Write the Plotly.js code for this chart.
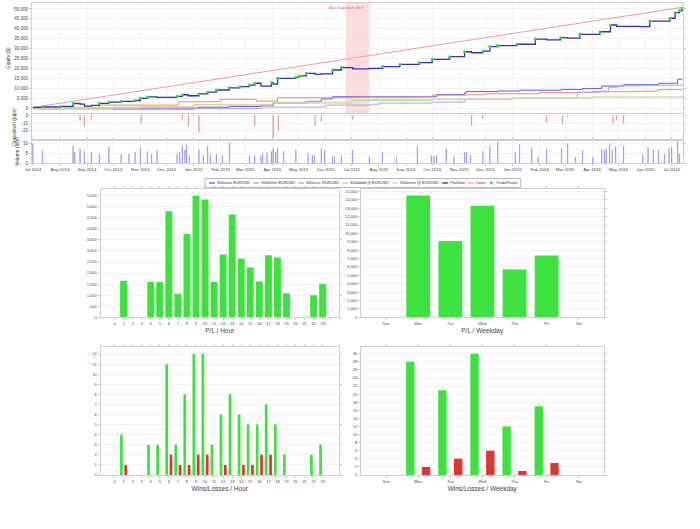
<!DOCTYPE html>
<html><head><meta charset="utf-8">
<script src="https://cdn.plot.ly/plotly-3.0.1.min.js"></script>
<style>html,body{margin:0;padding:0;background:#fff}#chart{width:700px;height:529px}</style>
</head><body><div id="chart"></div>
<script>
// ---------------- DATA ----------------
const portfolioDates = ['2014-07-01','2014-07-12','2014-08-01','2014-08-16','2014-08-24','2014-08-29','2014-09-06','2014-09-15','2014-09-26','2014-10-10','2014-10-26','2014-11-01','2014-11-09','2014-11-20','2014-12-13','2014-12-19','2014-12-26','2015-01-07','2015-01-17','2015-01-27','2015-02-11','2015-02-23','2015-03-06','2015-03-12','2015-03-19','2015-03-31','2015-04-02','2015-04-07','2015-04-28','2015-05-02','2015-05-10','2015-05-20','2015-05-27','2015-06-09','2015-06-19','2015-07-02','2015-07-21','2015-08-05','2015-08-25','2015-09-16','2015-10-01','2015-10-21','2015-11-07','2015-11-15','2015-11-28','2015-12-06','2015-12-15','2016-01-06','2016-01-27','2016-02-09','2016-02-25','2016-03-04','2016-03-18','2016-04-10','2016-04-22','2016-04-29','2016-05-26','2016-06-06','2016-06-29','2016-07-05','2016-07-10','2016-07-13'];
const portfolioValues = [300,600,800,2300,2000,1000,1300,2400,3000,3400,3800,4900,5600,5400,5900,6700,6200,7100,8000,9100,10200,10800,11600,12500,11100,12800,12100,15000,15600,16200,17500,17000,17200,19200,20400,19800,20000,20900,22000,22900,24600,25900,28400,27900,28700,31000,31500,32200,34800,34400,35500,35300,37200,38500,41900,41200,41100,43900,45300,48100,49200,50300];

const trendDates = ['2014-07-01','2016-07-13'];
const trendValues = [300,50800];

const stratNames = ['S00xxxx EURUSD','S00hhhh EURUSD','S00cccc EURUSD','S00dddd (I) EURUSD','S00eeee (I) EURUSD'];
const stratADates = ['2014-07-01','2014-12-19','2015-01-07','2015-02-11','2015-03-19','2015-04-02','2015-05-10','2015-05-27','2015-06-09','2015-09-30','2015-10-06','2015-11-07','2015-11-09','2015-12-15','2016-01-09','2016-02-26','2016-03-21','2016-04-12','2016-05-07','2016-06-16','2016-07-08','2016-07-13'];
const stratAValues = [0,0,400,800,1200,2600,3400,4600,5700,5700,6800,7600,8300,8600,9000,9400,9900,11100,11800,12500,14500,14500];
const stratBDates = ['2014-07-01','2014-09-15','2014-12-15','2015-02-01','2015-03-10','2015-03-14','2015-04-07','2015-07-01','2015-09-20','2015-10-01','2015-11-10','2015-12-01','2016-02-01','2016-04-01','2016-05-15','2016-06-15','2016-07-13'];
const stratBValues = [0,1500,3200,4400,4400,3500,5200,5500,5600,6500,6700,7200,7800,8200,8500,9300,9400];
const stratCDates = ['2014-07-01','2014-10-01','2015-01-01','2015-03-20','2015-06-01','2015-07-25','2015-08-01','2015-10-01','2015-11-07','2016-01-01','2016-03-15','2016-04-10','2016-04-20','2016-05-01','2016-06-01','2016-07-13'];
const stratCValues = [-500,-800,-300,500,1500,1900,2500,3000,4500,5000,8000,8500,10500,11200,11500,12000];
const stratDDates = ['2014-07-01','2014-10-01','2015-01-01','2015-04-01','2015-07-01','2015-10-01','2016-01-01','2016-04-01','2016-07-13'];
const stratDValues = [0,500,1500,2500,3800,4300,5000,5500,6000];
const stratEDates = ['2014-07-01','2014-11-01','2015-01-01','2015-04-01','2015-07-01','2015-10-01','2016-01-01','2016-04-01','2016-07-13'];
const stratEValues = [0,800,1800,3000,4400,4600,5000,5400,5600];

const drawdownDates = ['2014-08-24','2014-08-29','2014-09-06','2014-11-02','2014-12-19','2014-12-26','2015-01-07','2015-03-12','2015-04-02','2015-04-08','2015-05-20','2015-05-27','2015-07-02','2015-11-15','2015-11-28','2016-02-09','2016-02-27','2016-03-04','2016-04-25','2016-04-29','2016-05-07'];
const drawdownValues = [-6,-14,-5,-10,-5,-14,-22,-14,-29,-20,-13,-8,-5,-13,-4,-9,-11,-2,-11,-6,-10];

const volumeDates = ['2014-07-01','2014-07-12','2014-08-16','2014-08-18','2014-08-24','2014-08-29','2014-09-06','2014-09-15','2014-09-26','2014-10-10','2014-10-19','2014-10-26','2014-11-01','2014-11-09','2014-11-14','2014-11-20','2014-12-13','2014-12-16','2014-12-19','2014-12-22','2014-12-24','2014-12-27','2015-01-07','2015-01-12','2015-01-17','2015-01-20','2015-01-27','2015-02-03','2015-02-11','2015-03-06','2015-03-12','2015-03-19','2015-03-21','2015-03-26','2015-03-31','2015-04-02','2015-04-05','2015-04-07','2015-04-14','2015-04-28','2015-05-12','2015-05-17','2015-05-19','2015-05-27','2015-05-31','2015-06-09','2015-06-11','2015-06-19','2015-07-02','2015-07-21','2015-08-05','2015-08-21','2015-09-14','2015-09-30','2015-10-03','2015-10-06','2015-10-17','2015-10-26','2015-11-07','2015-11-09','2015-11-14','2015-11-28','2015-12-06','2015-12-15','2016-01-04','2016-01-09','2016-01-23','2016-01-30','2016-02-09','2016-02-26','2016-03-04','2016-03-13','2016-03-21','2016-04-02','2016-04-12','2016-04-15','2016-04-17','2016-04-21','2016-04-24','2016-04-28','2016-05-07','2016-05-29','2016-06-04','2016-06-10','2016-06-16','2016-06-23','2016-06-28','2016-07-01','2016-07-08','2016-07-10'];
const volumeValues = [10,6.5,9,5.6,7.4,6,5.6,4.4,8.2,4.4,4.7,5.6,7.7,6,4.7,6.5,4.7,5.6,9,6.8,9.5,3.9,7,3.9,8.8,4.2,4.7,3.9,10.5,3.9,3.9,3.5,4.7,5,6,7.4,5.6,7.7,6,6.8,5,3.9,3.9,7.4,6.5,3.3,3.3,3.9,6.5,3.3,5.6,3.3,8.6,3.9,3.3,3.9,7.4,3.3,5.6,5.3,3.9,6,9.1,10.9,5.6,9.6,7.7,3,7.4,7.7,10,3,6.5,3,7,6.5,7.4,10,6.5,8.6,8.8,4.4,8.2,6.8,6.5,4.7,7.4,8.2,11.4,4.7];

const stagnation = ['2015-06-24','2015-07-21'];
const stagnationLabel = 'Max Stagnation: 46 d';

const hours = [0,1,2,3,4,5,6,7,8,9,10,11,12,13,14,15,16,17,18,19,20,21,22,23];
const plHour = [0,1650,0,0,1600,1600,4790,1070,3780,5500,5320,1600,2840,4650,2660,2250,1620,2810,2700,1090,0,0,1000,1510];
const winsHour = [0,4,0,0,3,3,11,3,8,12,12,3,6,8,6,5,5,7,5,2,0,0,2,3];
const lossesHour = [0,1,0,0,0,0,2,1,1,2,2,0,1,0,1,1,2,2,0,0,0,0,0,0];

const weekdays = ['Sun','Mon','Tue','Wed','Thu','Fri','Sat'];
const plWeekday = [0,14530,9100,13300,5700,7380,0];
const winsWeekday = [0,28,21,30,12,17,0];
const lossesWeekday = [0,2,4,6,1,3,0];

// ---------------- STYLE ----------------
const W = 700, H = 529;
const FONT = 'Liberation Sans, Arial, sans-serif';
const px = v => v / W;
const py = v => 1 - v / H;
const stratColors = ['#5a5aee','#f08a7a','#a4a4f2','#a8e4a0','#f2d090'];
const portColor = '#2f2fb8';
const trendColor = '#f29a9a';
const peakColor = '#2fdc2f';
const green = '#3ee23e', red = '#e03434';
const gridC = '#ececec', frameC = '#cfcfcf', tickC = '#444';

// trade peaks = new highs of the portfolio
const peakDates = [], peakValues = [];
let runMax = -Infinity;
portfolioValues.forEach((v, i) => { if (v > runMax) { runMax = v; if (i > 0) { peakDates.push(portfolioDates[i]); peakValues.push(v); } } });

const DAY = 86400000;
const traces = [];
const stratD = [[stratADates,stratAValues],[stratBDates,stratBValues],[stratCDates,stratCValues],[stratDDates,stratDValues],[stratEDates,stratEValues]];
stratD.forEach((s, i) => traces.push({type:'scatter', mode:'lines', x:s[0], y:s[1], name:stratNames[i], line:{color:stratColors[i], width:1, shape:'hv'}, xaxis:'x', yaxis:'y', showlegend:false}));
traces.push({type:'scatter', mode:'lines', x:trendDates, y:trendValues, name:'Lines', line:{color:trendColor, width:1}, xaxis:'x', yaxis:'y', showlegend:false});
traces.push({type:'scatter', mode:'lines', x:portfolioDates, y:portfolioValues, name:'Portfolio', line:{color:portColor, width:1.3, shape:'hv'}, xaxis:'x', yaxis:'y', showlegend:false});
traces.push({type:'scatter', mode:'markers', x:peakDates, y:peakValues, name:'TradePeaks', marker:{color:peakColor, size:3}, xaxis:'x', yaxis:'y', showlegend:false});
traces.push({type:'bar', x:drawdownDates, y:drawdownValues, width:DAY*0.6, marker:{color:'#e88080', line:{color:'#e88080', width:0.4}}, xaxis:'x', yaxis:'y2', showlegend:false});
traces.push({type:'bar', x:volumeDates, y:volumeValues, width:DAY*0.6, marker:{color:'#8686ea', line:{color:'#8686ea', width:0.4}}, xaxis:'x', yaxis:'y3', showlegend:false});

traces.push({type:'bar', x:hours, y:plHour, width:0.77, marker:{color:green}, xaxis:'x4', yaxis:'y4', showlegend:false});
traces.push({type:'bar', x:weekdays, y:plWeekday, width:0.74, marker:{color:green}, xaxis:'x5', yaxis:'y5', showlegend:false});
traces.push({type:'bar', x:hours, y:winsHour, width:0.3, offset:-0.39, marker:{color:green}, xaxis:'x6', yaxis:'y6', showlegend:false});
traces.push({type:'bar', x:hours, y:lossesHour, width:0.3, offset:0.09, marker:{color:red}, xaxis:'x6', yaxis:'y6', showlegend:false});
traces.push({type:'bar', x:weekdays, y:winsWeekday, width:0.26, offset:-0.375, marker:{color:green}, xaxis:'x7', yaxis:'y7', showlegend:false});
traces.push({type:'bar', x:weekdays, y:lossesWeekday, width:0.26, offset:0.115, marker:{color:red}, xaxis:'x7', yaxis:'y7', showlegend:false});

const tf = s => ({family:FONT, size:s, color:tickC});
const baseAx = {showline:true, linecolor:frameC, linewidth:1, mirror:'all', showgrid:true, gridcolor:gridC, gridwidth:0.7, zeroline:false, automargin:false, tickfont:tf(4.5), ticks:'outside', ticklen:2, tickcolor:'#aaa', tickwidth:0.6};

const layout = {
  width:W, height:H, margin:{l:0,r:0,t:0,b:0}, paper_bgcolor:'#fff', plot_bgcolor:'#fff',
  barmode:'overlay', showlegend:false, font:{family:FONT},
  xaxis:Object.assign({}, baseAx, {type:'date', domain:[px(32),px(683)], anchor:'y3', range:['2014-06-30','2016-07-14'], tick0:'2014-07-01', dtick:'M1', tickformat:'%b %Y', tickfont:tf(4.4)}),
  yaxis:Object.assign({}, baseAx, {domain:[py(113),py(3)], range:[-2500,53000], dtick:5000, tickformat:',d', anchor:'x', title:{text:'Equity ($)', font:{family:FONT,size:5,color:'#333'}, standoff:3}}),
  yaxis2:Object.assign({}, baseAx, {domain:[py(140),py(114)], range:[-31.8,2], tickvals:[0,-10,-20], anchor:'x', title:{text:'Drawdown (pips)', font:{family:FONT,size:5,color:'#333'}, standoff:3}}),
  yaxis3:Object.assign({}, baseAx, {domain:[py(163),py(140)], range:[0,12], tickvals:[0,5,10], anchor:'x', title:{text:'Volume (lots)', font:{family:FONT,size:5,color:'#333'}, standoff:3}}),
  xaxis4:Object.assign({}, baseAx, {domain:[px(100.5),px(339)], anchor:'y4', range:[-1.55,24.8], tickvals:hours, showgrid:false, tickfont:tf(4), title:{text:'P/L / Hour', font:{family:FONT,size:6.5,color:'#444'}, standoff:3}}),
  yaxis4:Object.assign({}, baseAx, {domain:[py(317.3),py(189)], anchor:'x4', range:[0,5800], dtick:500, tickformat:',d', tickfont:tf(4)}),
  xaxis5:Object.assign({}, baseAx, {type:'category', domain:[px(361),px(603.5)], anchor:'y5', range:[-0.78,6.77], showgrid:false, tickfont:tf(4), title:{text:'P/L / Weekday', font:{family:FONT,size:6.5,color:'#444'}, standoff:3}}),
  yaxis5:Object.assign({}, baseAx, {domain:[py(317.3),py(189)], anchor:'x5', range:[0,15300], dtick:1000, tickformat:',d', tickfont:tf(4)}),
  xaxis6:Object.assign({}, baseAx, {domain:[px(100.5),px(339)], anchor:'y6', range:[-1.55,24.8], tickvals:hours, showgrid:false, tickfont:tf(4), title:{text:'Wins/Losses / Hour', font:{family:FONT,size:6.5,color:'#444'}, standoff:3}}),
  yaxis6:Object.assign({}, baseAx, {domain:[py(475),py(347.3)], anchor:'x6', range:[0,12.67], dtick:1, tickfont:tf(4)}),
  xaxis7:Object.assign({}, baseAx, {type:'category', domain:[px(361),px(603.5)], anchor:'y7', range:[-0.78,6.77], showgrid:false, tickfont:tf(4), title:{text:'Wins/Losses / Weekday', font:{family:FONT,size:6.5,color:'#444'}, standoff:3}}),
  yaxis7:Object.assign({}, baseAx, {domain:[py(475),py(347.3)], anchor:'x7', range:[0,31.6], dtick:2, tickfont:tf(4)}),
  shapes:[
    {type:'rect', xref:'x', yref:'y domain', x0:stagnation[0], x1:stagnation[1], y0:0, y1:1, fillcolor:'rgba(250,170,170,0.45)', line:{width:0}, layer:'below'}
  ],
  annotations:[
    {xref:'x', yref:'y domain', x:stagnation[0], y:0.995, xanchor:'center', yanchor:'top', text:stagnationLabel, showarrow:false, font:{family:FONT, size:3.6, color:'#e06060'}}
  ]
};

// custom compact legend
const legendItems = stratNames.map((n,i) => ({name:n, color:stratColors[i], kind:'line'}))
  .concat([{name:'Portfolio', color:portColor, kind:'line'}, {name:'Lines', color:trendColor, kind:'line'}, {name:'TradePeaks', color:peakColor, kind:'marker'}]);
const ctx = document.createElement('canvas').getContext('2d');
const LF = 4;
ctx.font = LF + 'px "Liberation Sans"';
const legY = 183;
let cx = 209;
const startX = 205;
legendItems.forEach(it => {
  if (it.kind === 'line') {
    layout.shapes.push({type:'line', xref:'paper', yref:'paper', x0:px(cx), x1:px(cx+6), y0:py(legY), y1:py(legY), line:{color:it.color, width:1.3}});
  } else {
    layout.shapes.push({type:'circle', xref:'paper', yref:'paper', x0:px(cx+1.6), x1:px(cx+4.4), y0:py(legY+1.4), y1:py(legY-1.4), fillcolor:it.color, line:{width:0}});
  }
  layout.annotations.push({xref:'paper', yref:'paper', x:px(cx+7), y:py(legY), xanchor:'left', yanchor:'middle', text:it.name, showarrow:false, font:{family:FONT, size:LF, color:'#333'}, borderpad:0});
  cx += 7 + ctx.measureText(it.name).width + 4;
});
layout.shapes.push({type:'rect', xref:'paper', yref:'paper', x0:px(startX), x1:px(cx), y0:py(187.5), y1:py(178.5), line:{color:'#8a8a8a', width:0.6}, fillcolor:'rgba(0,0,0,0)'});

Plotly.newPlot('chart', traces, layout, {displayModeBar:false, staticPlot:true});
</script></body></html>
